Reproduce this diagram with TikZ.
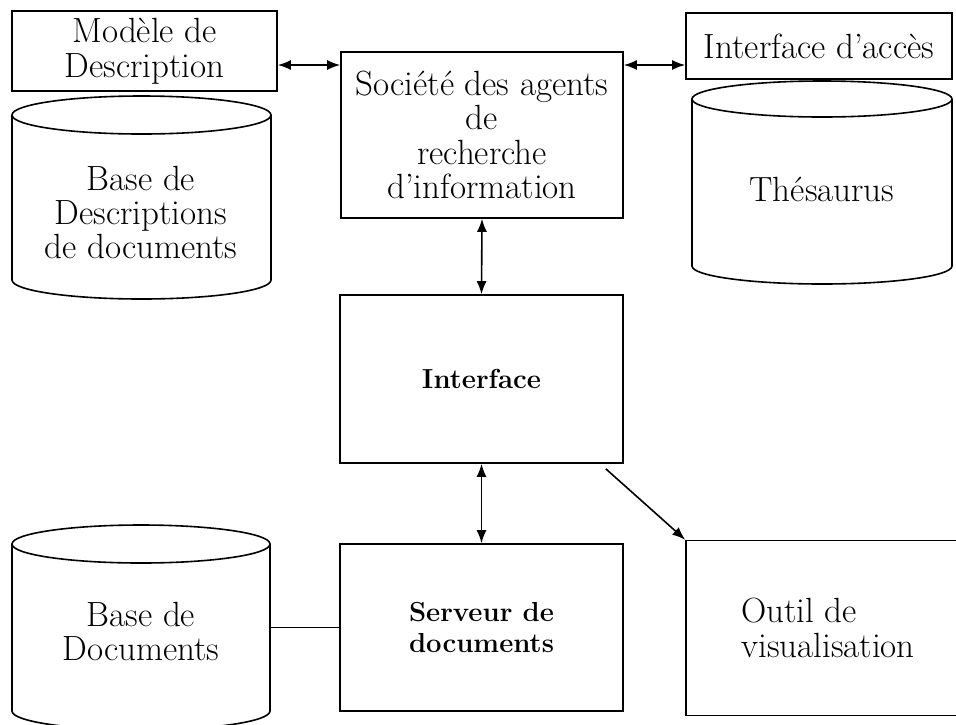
\documentclass[tikz,border=0pt]{standalone}
\usepackage{fontspec}
\usetikzlibrary{arrows.meta,calc}
\newcommand\dbcyl[5]{% cx, rx, top centre, bottom centre, ry
  \draw[line] (#1-#2,#3) -- (#1-#2,#4) arc[start angle=180,end angle=0,x radius=#2,y radius=#5] -- (#1+#2,#3);
  \draw[line] (#1,#3) ellipse[x radius=#2,y radius=#5];}
\begin{document}
\begin{tikzpicture}[x=1pt,y=-1pt,
  line/.style={line width=1.6pt},
  box/.style={draw,line,rectangle,inner sep=0pt,align=center,font=\fontsize{35}{34.5}\selectfont},
  boldbox/.style={box,font=\fontsize{27.5}{31}\selectfont\bfseries},
  txt/.style={align=center,inner sep=0pt,font=\fontsize{35}{34}\selectfont},
  body/.style={inner sep=0pt,draw=none},
  arr/.style={line,{Latex[length=13pt,width=10pt]}-{Latex[length=13pt,width=10pt]}},
  arrto/.style={line,-{Latex[length=13pt,width=10pt]}},
]
\useasboundingbox (0,0) rectangle (956,724);

% boxes
\node[box,minimum width=265pt,minimum height=80pt] (modele) at (144.5,51) {Modèle de\\Description};
\node[box,minimum width=282pt,minimum height=166pt] (societe) at (482,135) {Société des agents\\de\\recherche\\d’information};
\node[box,minimum width=266pt,minimum height=66pt] (acces) at (819,46) {Interface d’accès};
\node[boldbox,minimum width=283pt,minimum height=168pt] (interface) at (481.5,379) {Interface};
\node[boldbox,minimum width=283pt,minimum height=167pt] (serveur) at (481.5,627.5) {Serveur de\\documents};
\node[box,minimum width=284pt,minimum height=175pt,align=left] (outil) at (828,628) {Outil de\\visualisation};

% cylinders
\dbcyl{141.5}{129.5}{115}{280}{19}
\dbcyl{822}{130}{99}{266}{18}
\dbcyl{141}{129}{544}{711}{19}
\node[body,minimum width=259pt,minimum height=165pt] (bdescbody) at (141.5,197.5) {};
\node[body,minimum width=260pt,minimum height=167pt] (thesbody) at (822,182.5) {};
\node[body,minimum width=258pt,minimum height=167pt] (bdocsbody) at (141,627.5) {};
\node[txt] (bdesc) at (141,212) {Base de\\Descriptions\\de documents};
\node[txt] (thes) at (822,189) {Thésaurus};
\node[txt] (bdocs) at (141,631) {Base de\\Documents};

% connectors
\coordinate (h1) at (0,65);
\draw[arr] (modele.east |- h1) -- (societe.west |- h1);
\draw[arr] (societe.east |- h1) -- (acces.west |- h1);
\draw[arr] (societe.south) -- (interface.north);
\draw[arr] (interface.south) -- (serveur.north);
\draw[arrto] ($(interface.south east)+(-18,5)$) -- (outil.north west);
\draw[line] (serveur.west) -- (serveur.west -| bdocsbody.east);
\end{tikzpicture}
\end{document}
